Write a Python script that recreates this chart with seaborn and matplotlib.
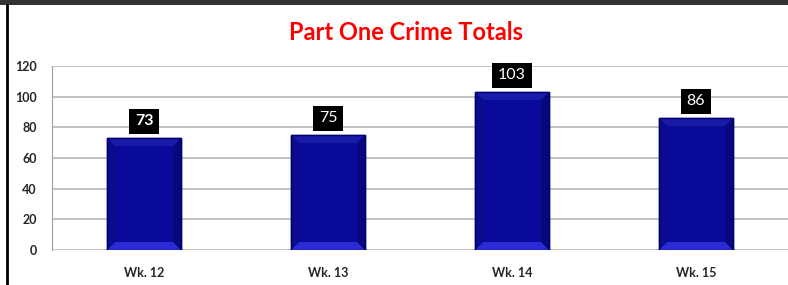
import matplotlib
matplotlib.use("Agg")
import matplotlib.pyplot as plt
import seaborn as sns
import pandas as pd
from matplotlib.patches import Polygon, Rectangle
from matplotlib.lines import Line2D

# Chart data
weeks = ["Wk. 12", "Wk. 13", "Wk. 14", "Wk. 15"]
totals = [73, 75, 103, 86]
bold_labels = [True, False, False, False]

df = pd.DataFrame({"week": weeks, "total": totals})

sns.set_style("white")
plt.rcParams["font.family"] = ["Lato", "DejaVu Sans"]

fig = plt.figure(figsize=(7.88, 2.85), dpi=100)
ax = fig.add_axes([52 / 788, 35 / 285, 736 / 788, 184 / 285])

sns.barplot(data=df, x="week", y="total", color="#0a0a9a", width=0.4,
            edgecolor="#00006e", linewidth=1.0, saturation=1, ax=ax, zorder=3)

ax.set_xlim(-0.5, 3.5)
ax.set_ylim(0, 120)
ax.set_yticks(range(0, 121, 20))
ax.yaxis.grid(True, color="#bdbdbd", linewidth=1.3, zorder=0)
ax.set_axisbelow(True)
ax.set_xlabel("")
ax.set_ylabel("")

for side in ["top", "right", "bottom"]:
    ax.spines[side].set_visible(False)
ax.spines["left"].set_color("#a0a0a0")
ax.spines["left"].set_zorder(1)

ax.tick_params(axis="y", length=5, width=1, color="#a0a0a0", pad=6, labelsize=9)
ax.tick_params(axis="x", length=0, pad=12, labelsize=9)
for lab in ax.get_yticklabels() + ax.get_xticklabels():
    lab.set_fontweight("bold")

# category boundary ticks under the baseline
ax.set_xticks([0.5, 1.5, 2.5], minor=True)
ax.tick_params(axis="x", which="minor", length=5, width=1, color="#a0a0a0")

# bevel effect on each bar
fig.canvas.draw()
inv = ax.transData.inverted()
for p in ax.patches:
    x0, y0 = p.get_x(), p.get_y()
    w, h = p.get_width(), p.get_height()
    (px0, py0) = ax.transData.transform((x0, y0))
    (px1, py1) = ax.transData.transform((x0 + w, y0 + h))
    b = 8
    def d(px, py):
        return inv.transform((px, py))
    top = [d(px0, py1), d(px1, py1), d(px1 - b, py1 - b), d(px0 + b, py1 - b)]
    bot = [d(px0, py0), d(px1, py0), d(px1 - b, py0 + b), d(px0 + b, py0 + b)]
    left = [d(px0, py0), d(px0, py1), d(px0 + b, py1 - b), d(px0 + b, py0 + b)]
    right = [d(px1, py0), d(px1, py1), d(px1 - b, py1 - b), d(px1 - b, py0 + b)]
    ax.add_patch(Polygon(left, closed=True, facecolor="#0b0b8c", edgecolor="none", zorder=4))
    ax.add_patch(Polygon(right, closed=True, facecolor="#08087e", edgecolor="none", zorder=4))
    ax.add_patch(Polygon(top, closed=True, facecolor="#1a1aa8", edgecolor="none", zorder=4))
    ax.add_patch(Polygon(bot, closed=True, facecolor="#2c2cd6", edgecolor="none", zorder=4))
    ax.add_patch(Rectangle((x0, y0), w, h, facecolor="none", edgecolor="#00006e",
                           linewidth=1.0, zorder=5))

# value labels in black boxes
for i, v in enumerate(totals):
    ax.text(i, v + 11, str(v), ha="center", va="center", color="white",
            fontsize=11.5, fontweight="bold" if bold_labels[i] else "normal",
            bbox=dict(boxstyle="square,pad=0.35", facecolor="black", edgecolor="none"),
            zorder=6)

# title
fig.text(406 / 788, 1 - 33 / 285, "Part One Crime Totals", ha="center", va="center",
         color="#ff0000", fontsize=17, fontweight="bold")

# frame borders of the original screenshot
fig.add_artist(Rectangle((0, 1 - 5 / 285), 1, 5 / 285, transform=fig.transFigure,
                         facecolor="#333333", edgecolor="none"))
fig.add_artist(Line2D([7 / 788, 7 / 788], [0, 1 - 5 / 285], transform=fig.transFigure,
                      color="black", linewidth=2))

fig.savefig("out.png", dpi=100)
